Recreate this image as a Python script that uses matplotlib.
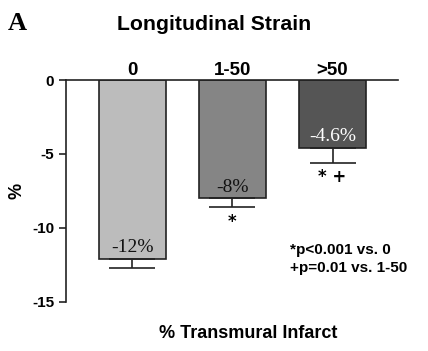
import numpy as np
import matplotlib.pyplot as plt

categories = ['0', '1-50', '>50']
strain = [-12.1, -8.0, -4.6]
err = [0.65, 0.6, 1.0]
value_labels = ['-12%', '-8%', '-4.6%']
sig_marks = ['', '*', '* +']
colors = ['#bcbcbc', '#858585', '#555555']
label_colors = ['#111111', '#111111', '#ffffff']

fig = plt.figure(figsize=(4.28, 3.51), dpi=100)
ax = fig.add_axes([0.154, 0.1405, 0.776, 0.6315])

x = np.arange(len(categories))
ax.bar(x, strain, width=0.67, color=colors, edgecolor='#222222', linewidth=1.2)
ax.errorbar(x, strain, yerr=[err, [0, 0, 0]], fmt='none', ecolor='#222222',
            elinewidth=1.2, capsize=16.5, capthick=1.2)

for i in range(len(x)):
    ax.annotate(value_labels[i], (x[i], strain[i]), xytext=(0, 8), textcoords='offset points',
                ha='center', va='center', family='Liberation Serif', fontsize=14,
                color=label_colors[i])
    if sig_marks[i]:
        ax.annotate(sig_marks[i], (x[i], strain[i] - err[i]), xytext=(0, -4),
                    textcoords='offset points', ha='center', va='top',
                    fontsize=12, fontweight='bold')

ax.set_xlim(-0.665, 2.655)
ax.set_ylim(-15, 0)
ax.set_yticks([0, -5, -10, -15])
ax.set_yticklabels(['0', '-5', '-10', '-15'], fontsize=11, fontweight='bold',
                   family='Liberation Sans')
ax.tick_params(axis='y', direction='out', length=5, width=1.2, color='#222222')
ax.set_xticks(x)
ax.set_xticklabels(categories, fontsize=13.5, fontweight='bold', family='Liberation Sans')
ax.xaxis.set_ticks_position('top')
ax.tick_params(axis='x', length=0, pad=1)
ax.spines['right'].set_visible(False)
ax.spines['bottom'].set_visible(False)
ax.spines['top'].set_linewidth(1.2)
ax.spines['left'].set_linewidth(1.2)
ax.spines['top'].set_color('#222222')
ax.spines['left'].set_color('#222222')

ax.set_ylabel('%', fontsize=13, fontweight='bold', family='Liberation Sans', labelpad=5)
fig.text(0.58, 0.05, '% Transmural Infarct', ha='center', va='center', fontsize=13,
         fontweight='bold', family='Liberation Sans')
fig.text(0.5, 0.93, 'Longitudinal Strain', ha='center', va='center', fontsize=15.3,
         fontweight='bold', family='Liberation Sans')
fig.text(0.018, 0.932, 'A', ha='left', va='center', fontsize=19, fontweight='bold',
         family='Liberation Serif')
fig.text(0.677, 0.262, '*p<0.001 vs. 0\n+p=0.01 vs. 1-50', ha='left', va='center',
         fontsize=11, fontweight='bold', family='Liberation Sans', linespacing=1.3)

fig.savefig('out.png', dpi=100)
